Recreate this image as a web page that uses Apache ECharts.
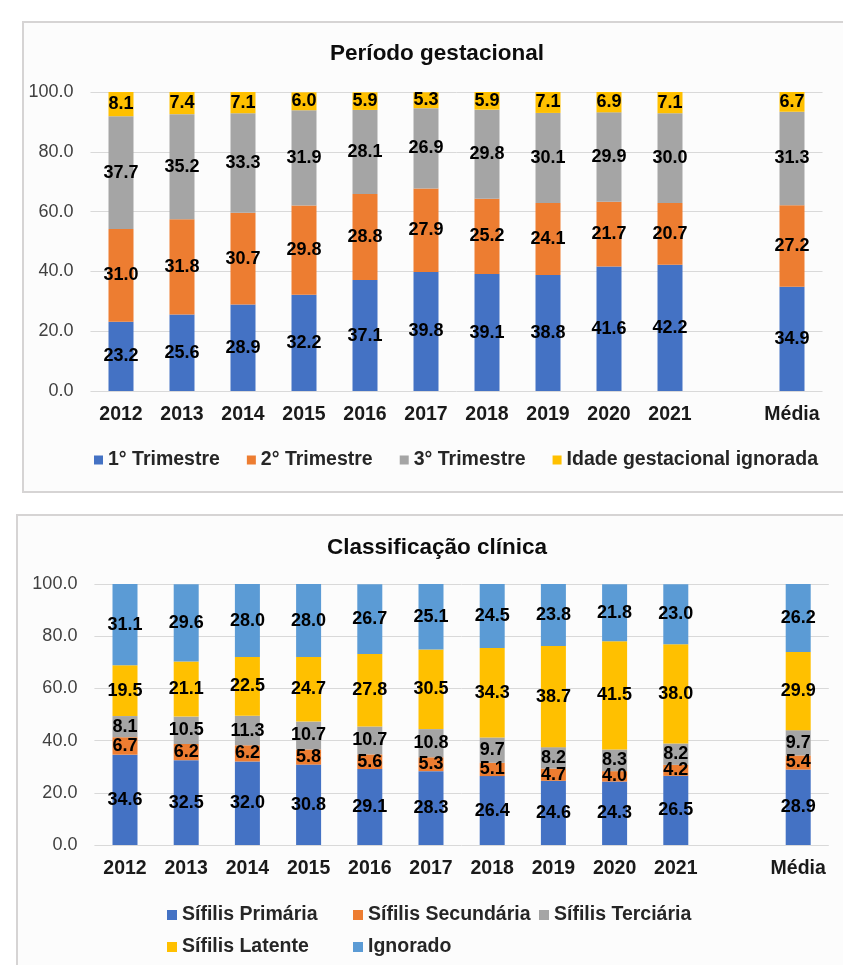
<!DOCTYPE html>
<html>
<head>
<meta charset="utf-8">
<script src="https://cdn.jsdelivr.net/npm/echarts@6/dist/echarts.min.js"></script>
<style>
  html, body { margin: 0; padding: 0; background: #ffffff; }
  #chart { width: 843px; height: 965px; }
</style>
</head>
<body>
<div id="chart"></div>
<script>
// Categories (an empty slot separates the yearly bars from the average)
const categories = ['2012', '2013', '2014', '2015', '2016', '2017', '2018', '2019', '2020', '2021', '', 'Média'];

// Período gestacional (%)
const trimestre1 = [23.2, 25.6, 28.9, 32.2, 37.1, 39.8, 39.1, 38.8, 41.6, 42.2, null, 34.9];
const trimestre2 = [31.0, 31.8, 30.7, 29.8, 28.8, 27.9, 25.2, 24.1, 21.7, 20.7, null, 27.2];
const trimestre3 = [37.7, 35.2, 33.3, 31.9, 28.1, 26.9, 29.8, 30.1, 29.9, 30.0, null, 31.3];
const idadeIgnorada = [8.1, 7.4, 7.1, 6.0, 5.9, 5.3, 5.9, 7.1, 6.9, 7.1, null, 6.7];

// Classificação clínica (%)
const primaria = [34.6, 32.5, 32.0, 30.8, 29.1, 28.3, 26.4, 24.6, 24.3, 26.5, null, 28.9];
const secundaria = [6.7, 6.2, 6.2, 5.8, 5.6, 5.3, 5.1, 4.7, 4.0, 4.2, null, 5.4];
const terciaria = [8.1, 10.5, 11.3, 10.7, 10.7, 10.8, 9.7, 8.2, 8.3, 8.2, null, 9.7];
const latente = [19.5, 21.1, 22.5, 24.7, 27.8, 30.5, 34.3, 38.7, 41.5, 38.0, null, 29.9];
const ignorado = [31.1, 29.6, 28.0, 28.0, 26.7, 25.1, 24.5, 23.8, 21.8, 23.0, null, 26.2];

// Y-axis ticks
const yTicks = [0, 20, 40, 60, 80, 100];

const FONT = '"Liberation Sans", Arial, sans-serif';
const C_BLUE = '#4472C4', C_ORANGE = '#ED7D31', C_GRAY = '#A5A5A5', C_GOLD = '#FFC000', C_LBLUE = '#5B9BD5';

const chart = echarts.init(document.getElementById('chart'), null, { renderer: 'canvas' });

function yAxis(gridIndex) {
  return {
    type: 'value', gridIndex, min: yTicks[0], max: yTicks[yTicks.length - 1],
    interval: yTicks[1] - yTicks[0],
    axisLine: { show: false }, axisTick: { show: false },
    axisLabel: { margin: 17, fontFamily: FONT, fontSize: 18, color: '#404040',
                 formatter: v => v.toFixed(1) },
    splitLine: { lineStyle: { color: '#d9d9d9', width: 1 } }
  };
}
function xAxis(gridIndex) {
  return {
    type: 'category', gridIndex, data: categories,
    axisLine: { show: false }, axisTick: { show: false },
    axisLabel: { margin: 14, fontFamily: FONT, fontSize: 19.5, fontWeight: 'bold', color: '#1a1a1a',
                 interval: 0 }
  };
}
function barSeries(name, data, color, idx, stack) {
  return {
    name, type: 'bar', data, stack, xAxisIndex: idx, yAxisIndex: idx,
    barWidth: 25, itemStyle: { color },
    label: { show: true, position: 'inside', fontFamily: FONT, fontSize: 18, fontWeight: 'bold',
             color: '#000000', formatter: p => (p.value == null ? '' : Number(p.value).toFixed(1)) }
  };
}
const legendText = { fontFamily: FONT, fontSize: 19.5, fontWeight: 'bold', color: '#262626', lineHeight: 20 };

chart.setOption({
  animation: false,
  backgroundColor: '#ffffff',
  graphic: [
    { type: 'rect', shape: { x: 23, y: 22, width: 840, height: 470 },
      style: { fill: '#fcfcfc', stroke: '#d6d4d4', lineWidth: 2 }, z: -10 },
    { type: 'rect', shape: { x: 17, y: 515, width: 850, height: 480 },
      style: { fill: '#fcfcfc', stroke: '#d6d4d4', lineWidth: 2 }, z: -10 }
  ],
  title: [
    { text: 'Período gestacional', left: 432, top: 37, textAlign: 'center',
      textStyle: { fontFamily: FONT, fontSize: 22.5, fontWeight: 'bold', color: '#0d0d0d' } },
    { text: 'Classificação clínica', left: 432, top: 531, textAlign: 'center',
      textStyle: { fontFamily: FONT, fontSize: 22.5, fontWeight: 'bold', color: '#0d0d0d' } }
  ],
  legend: [
    { left: 89, top: 445, itemWidth: 9, itemHeight: 9, itemGap: 27, icon: 'rect',
      data: ['1° Trimestre', '2° Trimestre', '3° Trimestre', 'Idade gestacional ignorada'],
      textStyle: legendText },
    { left: 162, top: 900, itemWidth: 10, itemHeight: 10, itemGap: 5, icon: 'rect',
      data: ['Sífilis Primária', 'Sífilis Secundária', 'Sífilis Terciária'],
      textStyle: Object.assign({ width: 166, overflow: 'none' }, legendText) },
    { left: 162, top: 932, itemWidth: 10, itemHeight: 10, itemGap: 5, icon: 'rect',
      data: ['Sífilis Latente', 'Ignorado'],
      textStyle: Object.assign({ width: 166, overflow: 'none' }, legendText) }
  ],
  grid: [
    { left: 90.5, right: 20.5, top: 92, bottom: 574 },
    { left: 94.4, right: 14.2, top: 584, bottom: 120 }
  ],
  xAxis: [xAxis(0), xAxis(1)],
  yAxis: [yAxis(0), yAxis(1)],
  series: [
    barSeries('1° Trimestre', trimestre1, C_BLUE, 0, 'pg'),
    barSeries('2° Trimestre', trimestre2, C_ORANGE, 0, 'pg'),
    barSeries('3° Trimestre', trimestre3, C_GRAY, 0, 'pg'),
    barSeries('Idade gestacional ignorada', idadeIgnorada, C_GOLD, 0, 'pg'),
    barSeries('Sífilis Primária', primaria, C_BLUE, 1, 'cc'),
    barSeries('Sífilis Secundária', secundaria, C_ORANGE, 1, 'cc'),
    barSeries('Sífilis Terciária', terciaria, C_GRAY, 1, 'cc'),
    barSeries('Sífilis Latente', latente, C_GOLD, 1, 'cc'),
    barSeries('Ignorado', ignorado, C_LBLUE, 1, 'cc')
  ]
});
</script>
</body>
</html>
